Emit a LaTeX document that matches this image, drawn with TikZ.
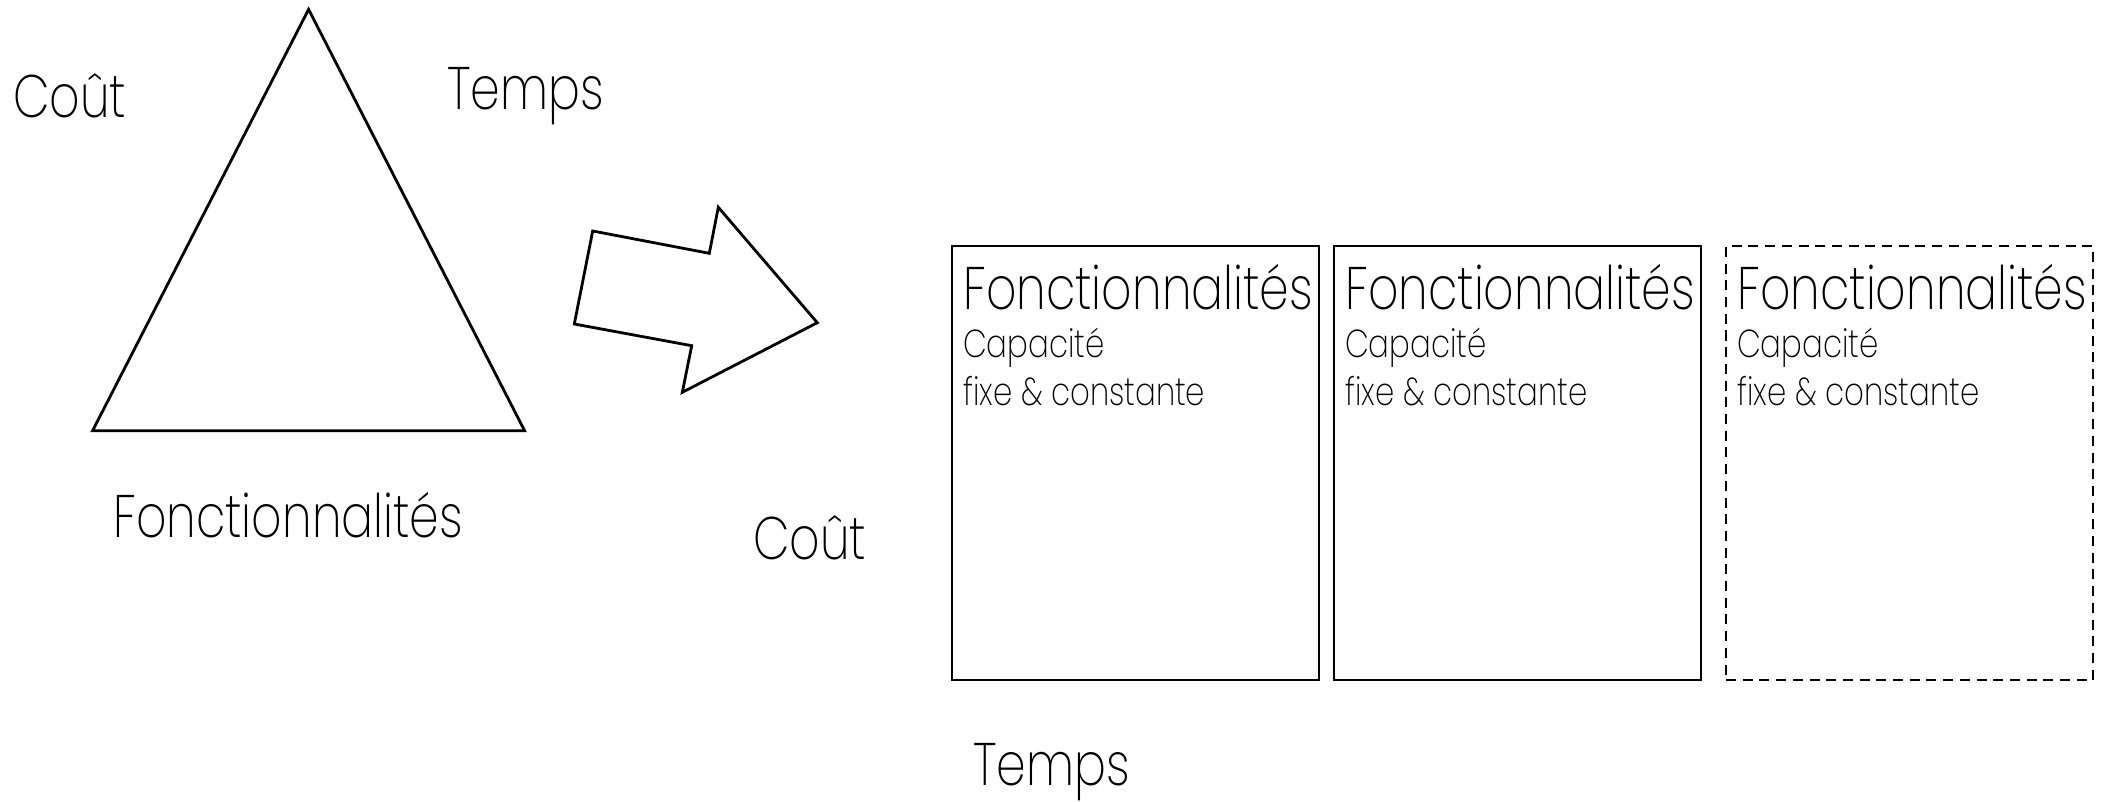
\documentclass[tikz,border=0pt]{standalone}
\usepackage{fontspec}
\setmainfont{Poppins}[UprightFont={* ExtraLight}, FakeStretch=0.79]
\begin{document}
\begin{tikzpicture}[x=1pt,y=-1pt,
  big/.style={inner sep=0pt, anchor=base west, font=\fontsize{60}{60}\selectfont},
  small/.style={inner sep=0pt, anchor=base west, font=\fontsize{39}{39}\selectfont},
  outline/.style={draw=black, line width=2.8pt, line join=miter},
  panel/.style={outline, rectangle, inner sep=0pt, outer sep=0pt, minimum width=367pt, minimum height=434pt, anchor=north west},
  dashpanel/.style={panel, dash pattern=on 10pt off 6.7pt}]
\useasboundingbox (0,0) rectangle (2104,802);
% triangle
\draw[outline] (308.6,9.4) -- (92.6,430.7) -- (524.6,430.7) -- cycle;
\node[big] (coutA) at (13,118) {Coût};
\node[big] (tempsA) at (447,110) {Temps};
\node[big] (fonctA) at (113,537) {Fonctionnalités};
% arrow
\draw[outline] (592.7,231) -- (709.3,253.3) -- (718.3,207.3) -- (817.3,322.7) -- (682.3,392.3) -- (691.7,345.7) -- (574.3,324) -- cycle;
\node[big] (coutB) at (753,559) {Coût};
\node[big] (tempsB) at (973,785) {Temps};
% panels
\node[panel] (b1) at (952,246) {};
\node[panel] (b2) at (1334,246) {};
\node[dashpanel] (b3) at (1726,246) {};
\foreach \b in {b1,b2,b3}{
  \node[big] (\b t) at ([shift={(11,63)}]\b.north west) {Fonctionnalités};
  \node[small] (\b c) at ([shift={(11,111)}]\b.north west) {Capacité};
  \node[small] (\b f) at ([shift={(11,159)}]\b.north west) {fixe \& constante};
}
\end{tikzpicture}
\end{document}
